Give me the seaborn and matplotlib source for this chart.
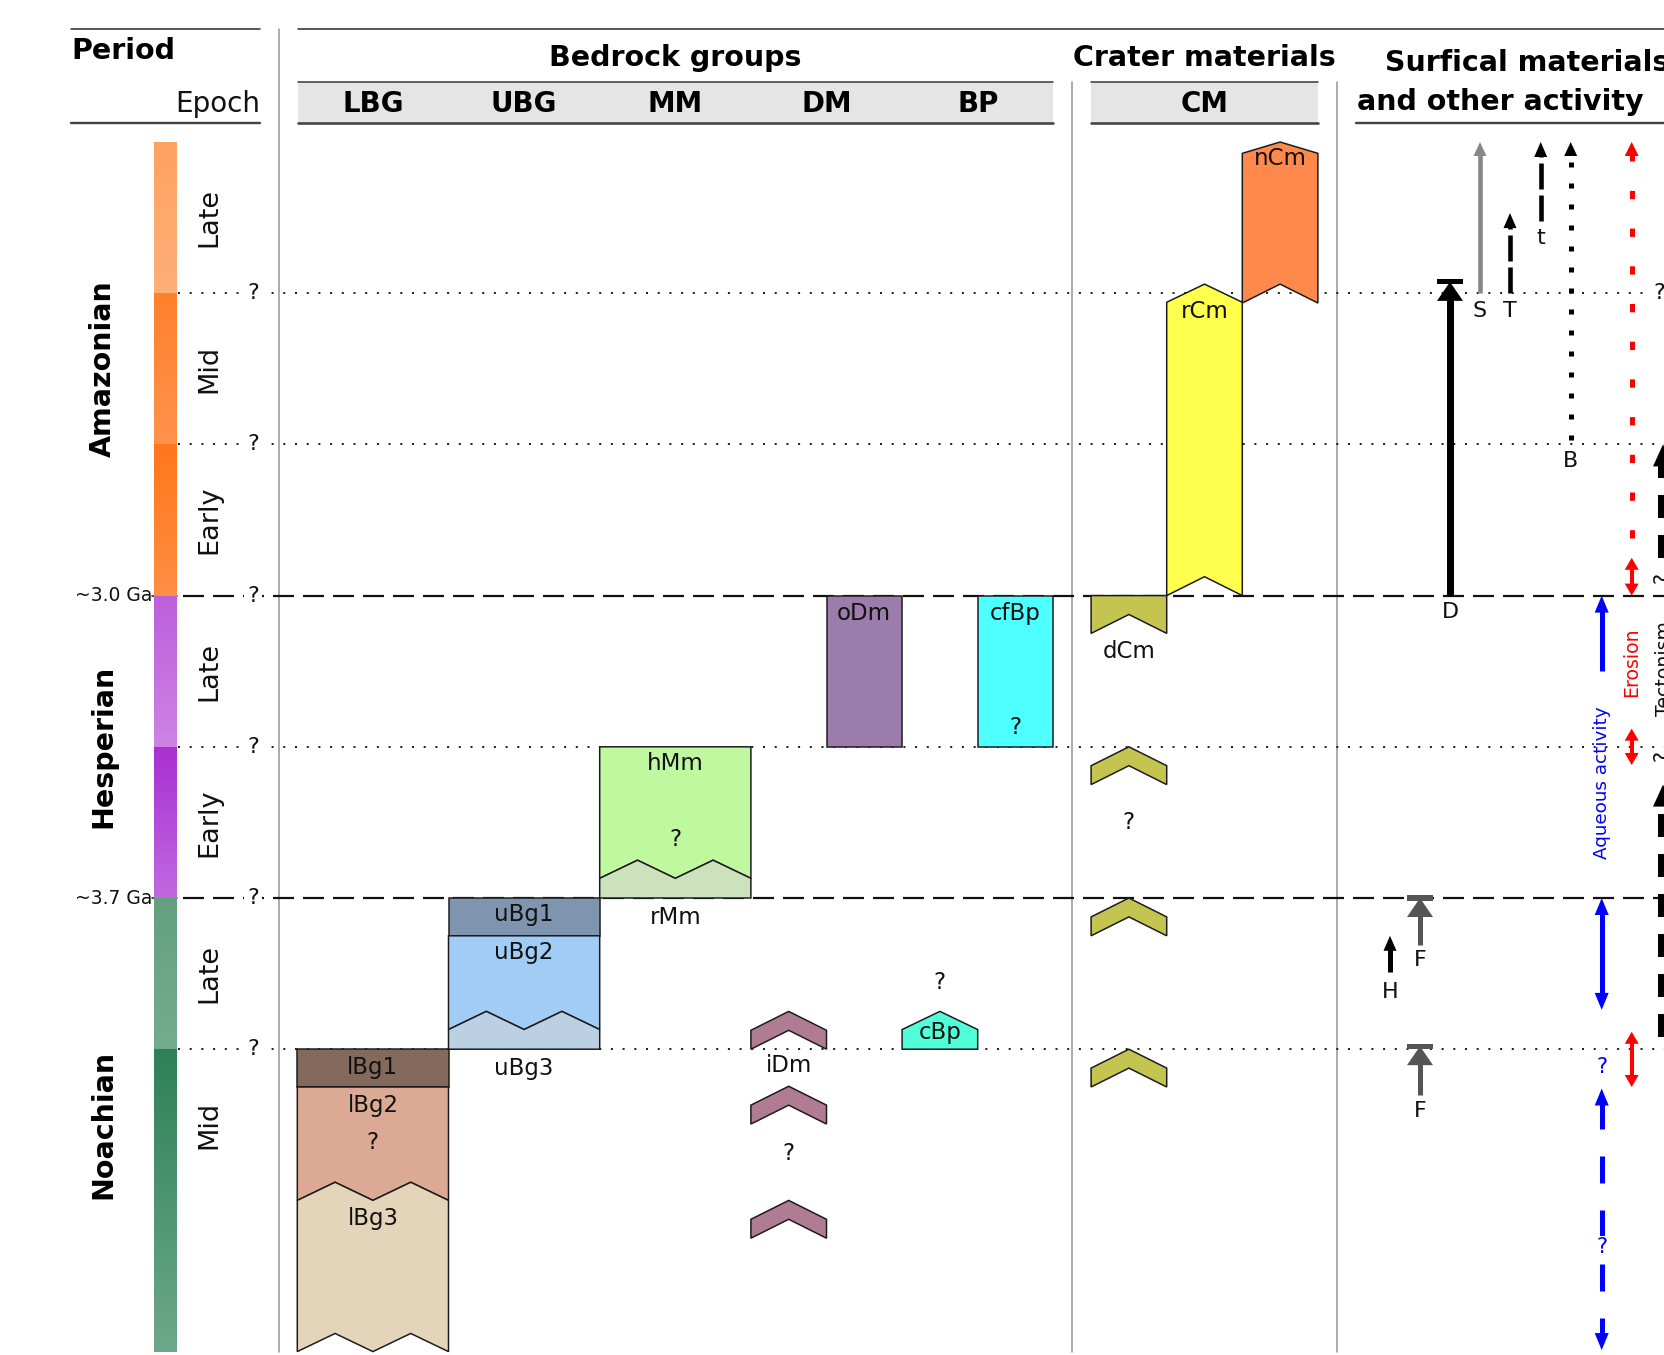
import numpy as np
import matplotlib
matplotlib.use("Agg")
import matplotlib.pyplot as plt
from matplotlib.colors import ListedColormap, to_rgb
import seaborn as sns

sns.set_theme(style="white")
plt.rcParams['font.family'] = ['DejaVu Sans']
plt.rcParams['lines.scale_dashes'] = False

# ---------------- data ----------------
periods = ["Amazonian", "Hesperian", "Noachian"]
period_centers = [1.5, 4.0, 6.5]
epochs = ["Late", "Mid", "Early", "Late", "Early", "Late", "Mid"]
epoch_tops = [0, 1, 2, 3, 4, 5, 6]
epoch_bottoms = [1, 2, 3, 4, 5, 6, 8]
epoch_top_colors = ["#FDA261", "#FE802C", "#FF761A", "#BC5FDC", "#A830D0", "#62A080", "#2E8056"]
epoch_bottom_colors = ["#FDAF78", "#FE924C", "#FE8E44", "#CC82E4", "#C068E0", "#72AC8E", "#6CA88A"]
boundary_times = [1, 2, 3, 4, 5, 6]
boundary_styles = ["dotted", "dotted", "dashed", "dotted", "dashed", "dotted"]
age_times = [3, 5]
age_labels = ["~3.0 Ga", "~3.7 Ga"]

bedrock_groups = ["LBG", "UBG", "MM", "DM", "BP"]
crater_groups = ["CM"]

# map units: name, half-column slot, width (half-columns), top, top shape, top amp,
# bottom, bottom shape, bottom amp, colour
unit_names = ["lBg1", "lBg2", "lBg3", "uBg1", "uBg2", "uBg3", "hMm", "rMm",
              "oDm", "cfBp", "cBp", "dCm", "rCm", "nCm"]
unit_slots = [0, 0, 0, 2, 2, 2, 4, 4, 7, 9, 8, 10.5, 11.5, 12.5]
unit_widths = [2, 2, 2, 2, 2, 2, 2, 2, 1, 1, 1, 1, 1, 1]
unit_tops = [6.0, 6.25, 7.0, 5.0, 5.25, 5.87, 4.0, 4.87, 3.0, 3.0, 5.87, 3.0, 1.06, 0.075]
unit_top_shapes = ["flat", "flat", "zig", "flat", "flat", "zig", "flat", "zig",
                   "flat", "flat", "peak", "flat", "peak", "peak"]
unit_top_amps = [0, 0, 0.12, 0, 0, 0.12, 0, 0.12, 0, 0, 0.12, 0, 0.12, 0.075]
unit_bottoms = [6.25, 7.0, 8.0, 5.25, 5.87, 6.0, 4.87, 5.0, 4.0, 4.0, 6.0, 3.25, 3.0, 1.065]
unit_bottom_shapes = ["flat", "zig", "zig", "flat", "zig", "flat", "zig", "flat",
                      "flat", "flat", "flat", "peak", "peak", "peak"]
unit_bottom_amps = [0, 0.12, 0.12, 0, 0.12, 0, 0.12, 0, 0, 0, 0, 0.125, 0.125, 0.125]
unit_colors = ["#836A5C", "#DCAA94", "#E4D4BA", "#7F94AE", "#A0CCF6", "#BCD0E4",
               "#C0F8A0", "#CCE2BC", "#9C7CAA", "#4DFFFF", "#50FFD8", "#C4C450",
               "#FFFF4D", "#FF884C"]

# chevron-shaped outcrops (apex times)
chevron_groups = ["iDm", "dCm"]
chevron_slots = [6, 10.5]
chevron_apexes = [[5.75, 6.245, 7.0], [4.0, 5.0, 6.0]]
chevron_colors = ["#B07C94", "#C4C450"]

# unit labels: text, half-column centre, time
label_texts = ["lBg1", "lBg2", "?", "lBg3", "uBg1", "uBg2", "uBg3", "hMm", "?", "rMm",
               "oDm", "cfBp", "?", "cBp", "?", "iDm", "?", "dCm", "?", "rCm", "nCm"]
label_slots = [1, 1, 1, 1, 3, 3, 3, 5, 5, 5, 7.5, 9.5, 9.5, 8.5, 8.5, 6.5, 6.5,
               11, 11, 12, 13]
label_times = [6.12, 6.37, 6.62, 7.12, 5.11, 5.36, 6.125, 4.11, 4.61, 5.13,
               3.12, 3.12, 3.87, 5.89, 5.56, 6.11, 6.69, 3.37, 4.5, 1.12, 0.11]

# ---------------- figure / axes ----------------
W, H, DPI = 1664, 1355, 100
Y0, UNIT = 142.0, 151.2          # pixel row of time 0, pixels per epoch unit
X0, HC = 297.3, 75.6             # left edge of first column, half-column width
PT = 72.0 / DPI                  # points per pixel

fig = plt.figure(figsize=(W / DPI, H / DPI), dpi=DPI)
ax = fig.add_axes([0, 0, 1, 1])
ax.set_xlim(0, W)
ax.set_ylim((H - Y0) / UNIT, -Y0 / UNIT)
ax.axis("off")


def ty(p):
    return (p - Y0) / UNIT


def sx(slot):
    return X0 + slot * HC


TXT = "#111111"

# ---------------- period / epoch colour column (seaborn heatmap) ----------------
rows_per_unit = 60
row_colors = []
for top, bot, c0, c1 in zip(epoch_tops, epoch_bottoms, epoch_top_colors, epoch_bottom_colors):
    n = int((bot - top) * rows_per_unit)
    a, b = np.array(to_rgb(c0)), np.array(to_rgb(c1))
    for i in range(n):
        f = i / max(n - 1, 1)
        row_colors.append(a + (b - a) * f)
nrows = len(row_colors)
cax = fig.add_axes([154 / W, 1 - (Y0 + 8 * UNIT) / H, 23 / W, 8 * UNIT / H])
sns.heatmap(np.arange(nrows).reshape(-1, 1), cmap=ListedColormap(row_colors),
            vmin=0, vmax=nrows - 1, cbar=False, xticklabels=False, yticklabels=False,
            ax=cax, linewidths=0)
cax.axis("off")

for t in age_times:
    ax.plot([152, 177], [t, t], color="#222222", lw=1.6 * PT, zorder=3)
for t, lab in zip(age_times, age_labels):
    ax.text(152, t, lab, ha="right", va="center", fontsize=13.5, color=TXT)

for name, c in zip(periods, period_centers):
    ax.text(103, c, name, rotation=90, ha="center", va="center",
            fontsize=20.5, fontweight="bold", color="black")
for name, top in zip(epochs, epoch_tops):
    ax.text(209, top + 0.5, name, rotation=90, ha="center", va="center",
            fontsize=19.5, color=TXT)

# ---------------- boundary lines ----------------
for t, st in zip(boundary_times, boundary_styles):
    if st == "dotted":
        ax.plot([178, W], [t, t], color="#222222", lw=2 * PT,
                linestyle=(0, (2 * PT, 9.7 * PT)), dash_capstyle="butt", zorder=1)
    else:
        ax.plot([183, W], [t, t], color="#111111", lw=2.2 * PT,
                linestyle=(0, (21 * PT, 9 * PT)), dash_capstyle="butt", zorder=1)
    ax.text(253, t, "?", ha="center", va="center", fontsize=16, color=TXT, zorder=4,
            bbox=dict(boxstyle="square,pad=0.15", fc="white", ec="none"))
ax.text(1659, 1.0, "?", ha="center", va="center", fontsize=16, color=TXT, zorder=4,
        bbox=dict(boxstyle="square,pad=0.1", fc="white", ec="none"))

# ---------------- header ----------------
HDR = "#333333"
ax.plot([71, 260], [ty(28.7), ty(28.7)], color=HDR, lw=1.6 * PT)
ax.plot([298, W], [ty(28.7), ty(28.7)], color=HDR, lw=1.6 * PT)
ax.plot([71, 260], [ty(123), ty(123)], color="#444444", lw=2.4 * PT)
ax.plot([1356, W], [ty(123), ty(123)], color="#444444", lw=2.4 * PT)
for x0, x1 in [(298, 1053), (1091, 1318)]:
    ax.fill([x0, x1, x1, x0], [ty(82), ty(82), ty(123), ty(123)], color="#E5E5E5", lw=0)
    ax.plot([x0, x1], [ty(82), ty(82)], color=HDR, lw=1.5 * PT)
    ax.plot([x0, x1], [ty(123), ty(123)], color="#444444", lw=2.6 * PT)
for x, yt in [(279, 28.7), (1072, 82), (1337, 82)]:
    ax.plot([x, x], [ty(yt), 8.0], color="#999999", lw=1.6 * PT, zorder=0.5)

ax.text(71, ty(51), "Period", ha="left", va="center", fontsize=20.5,
        fontweight="bold", color="black")
ax.text(260, ty(104), "Epoch", ha="right", va="center", fontsize=20, color=TXT)
ax.text(sx(5), ty(58), "Bedrock groups", ha="center", va="center", fontsize=20.5,
        fontweight="bold", color="black")
ax.text(sx(12), ty(58), "Crater materials", ha="center", va="center", fontsize=20.5,
        fontweight="bold", color="black")
ax.text(1385, ty(63), "Surfical materials", ha="left", va="center", fontsize=20.5,
        fontweight="bold", color="black")
ax.text(1357, ty(102), "and other activity", ha="left", va="center", fontsize=20.5,
        fontweight="bold", color="black")
for i, g in enumerate(bedrock_groups):
    ax.text(sx(2 * i + 1), ty(104), g, ha="center", va="center", fontsize=20,
            fontweight="bold", color="black")
for g in crater_groups:
    ax.text(sx(12), ty(104), g, ha="center", va="center", fontsize=20,
            fontweight="bold", color="black")


# ---------------- map units ----------------
def edge(xl, xr, t, kind, amp):
    w = xr - xl
    if kind == "flat":
        return [(xl, t), (xr, t)]
    if kind == "peak":
        return [(xl, t), (xl + w / 2, t - amp), (xr, t)]
    return [(xl, t), (xl + w / 4, t - amp), (xl + w / 2, t),
            (xl + 3 * w / 4, t - amp), (xr, t)]


def draw_shape(pts, color):
    xs = [p[0] for p in pts]
    ys = [p[1] for p in pts]
    ax.fill(xs, ys, facecolor=color, edgecolor="#1a1a1a", lw=1.5 * PT, zorder=2,
            joinstyle="miter")


for i in range(len(unit_names)):
    xl = sx(unit_slots[i])
    xr = sx(unit_slots[i] + unit_widths[i])
    top = edge(xl, xr, unit_tops[i], unit_top_shapes[i], unit_top_amps[i])
    bot = edge(xl, xr, unit_bottoms[i], unit_bottom_shapes[i], unit_bottom_amps[i])
    draw_shape(top + bot[::-1], unit_colors[i])

for slot, apexes, col in zip(chevron_slots, chevron_apexes, chevron_colors):
    xl, xr = sx(slot), sx(slot + 1)
    for a in apexes:
        top = edge(xl, xr, a + 0.125, "peak", 0.125)
        bot = edge(xl, xr, a + 0.25, "peak", 0.125)
        draw_shape(top + bot[::-1], col)

for txt, s, t in zip(label_texts, label_slots, label_times):
    ax.text(sx(s), t, txt, ha="center", va="center", fontsize=16.5, color=TXT, zorder=5)


# ---------------- surficial materials and activity ----------------
def arrow(x, t_from, t_to, color, lw_px, ls="-", both=False, hw=14, hl=15,
          tbar=False, z=3):
    sgn = np.sign(t_to - t_from)
    hlt = hl / UNIT
    s0 = t_from + (sgn * hlt * 0.8 if both else 0)
    s1 = t_to - sgn * hlt * 0.8
    ax.plot([x, x], [s0, s1], color=color, lw=lw_px * PT, linestyle=ls,
            solid_capstyle="butt", dash_capstyle="butt", zorder=z)

    def head(tip, d):
        base = tip - d * hlt
        ax.fill([x - hw / 2, x + hw / 2, x], [base, base, tip], color=color, lw=0, zorder=z)

    head(t_to, sgn)
    if both:
        head(t_from, -sgn)
    if tbar:
        b = 2.6 / UNIT
        ax.fill([x - hw / 2, x + hw / 2, x + hw / 2, x - hw / 2],
                [t_to - b, t_to - b, t_to + b, t_to + b], color=color, lw=0, zorder=z)


BLACK, GREY, DGREY, RED, BLUE = "black", "#888888", "#555555", "#FF0000", "#0000FF"

# deposits and features
arrow(1450, 3.0, 0.925, BLACK, 7, hw=26, hl=19, tbar=True)
arrow(1480, 1.0, 0.0, GREY, 4.6, hw=13, hl=14)
arrow(1510, 1.0, 0.47, BLACK, 4.6, ls=(0, (26 * PT, 6 * PT)), hw=13, hl=15)
arrow(1540.7, 0.52, 0.0, BLACK, 4.6, ls=(0, (26 * PT, 6 * PT)), hw=13, hl=15)
arrow(1570.7, 1.97, 0.0, BLACK, 5, ls=(0, (5 * PT, 16 * PT)), hw=13, hl=14)
arrow(1390, 5.49, 5.25, BLACK, 5, hw=13, hl=15)
arrow(1420, 5.31, 5.0, DGREY, 5, hw=26, hl=19, tbar=True)
arrow(1420, 6.30, 5.98, DGREY, 5, hw=26, hl=19, tbar=True)

ax.text(1450, 3.11, "D", ha="center", va="center", fontsize=16, color=TXT)
ax.text(1480, 1.12, "S", ha="center", va="center", fontsize=16, color=TXT)
ax.text(1510, 1.12, "T", ha="center", va="center", fontsize=16, color=TXT)
ax.text(1540.7, 0.635, "t", ha="center", va="center", fontsize=16, color=TXT)
ax.text(1570.7, 2.11, "B", ha="center", va="center", fontsize=16, color=TXT)
ax.text(1390, 5.62, "H", ha="center", va="center", fontsize=16, color=TXT)
ax.text(1420, 5.41, "F", ha="center", va="center", fontsize=16, color=TXT)
ax.text(1420, 6.41, "F", ha="center", va="center", fontsize=16, color=TXT)

# aqueous activity
arrow(1601.7, 3.5, 3.0, BLUE, 5, hw=14, hl=17)
arrow(1601.7, 5.0, 5.74, BLUE, 5, both=True, hw=14, hl=17)
arrow(1601.7, 6.26, 7.99, BLUE, 5, ls=(0, (27 * PT, 27 * PT)), both=True, hw=14, hl=17)
ax.text(1601.7, 4.24, "Aqueous activity", rotation=90, ha="center", va="center",
        fontsize=13.2, color=BLUE)
ax.text(1601.7, 6.12, "?", ha="center", va="center", fontsize=15, color=BLUE)
ax.text(1601.7, 7.31, "?", ha="center", va="center", fontsize=15, color=BLUE, zorder=5,
        bbox=dict(boxstyle="square,pad=0.05", fc="white", ec="none"))

# erosion
arrow(1631.7, 2.62, 0.0, RED, 5, ls=(0, (8.3 * PT, 29.4 * PT)), hw=14, hl=14)
arrow(1631.7, 2.75, 3.0, RED, 4, both=True, hw=14, hl=12)
arrow(1631.7, 3.88, 4.12, RED, 4, both=True, hw=14, hl=12)
arrow(1631.7, 5.885, 6.25, RED, 4, both=True, hw=14, hl=12)
ax.text(1631.7, 3.44, "Erosion", rotation=90, ha="center", va="center",
        fontsize=13.6, color=RED)

# tectonism
arrow(1663, 2.75, 2.0, BLACK, 10, ls=(0, (23 * PT, 17 * PT)), hw=20, hl=22)
arrow(1663, 5.92, 4.25, BLACK, 10, ls=(0, (23 * PT, 17 * PT)), hw=20, hl=22)
ax.text(1663, 2.88, "?", rotation=90, ha="center", va="center", fontsize=15, color=TXT)
ax.text(1663, 4.06, "?", rotation=90, ha="center", va="center", fontsize=15, color=TXT)
ax.text(1664, 3.48, "Tectonism", rotation=90, ha="center", va="center",
        fontsize=13.6, color=TXT)

fig.savefig("out.png", dpi=DPI, facecolor="white")
